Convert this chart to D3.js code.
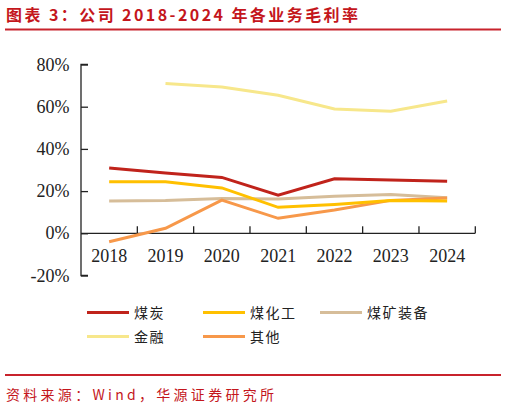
<!DOCTYPE html>
<html>
<head>
<meta charset="utf-8">
<script src="https://cdn.jsdelivr.net/npm/d3@7"></script>
<style>
body { margin:0; background:#fff; }
svg { display:block; }
</style>
</head>
<body>
<svg id="chart" width="506" height="408"></svg>
<script>

var years=["2018","2019","2020","2021","2022","2023","2024"];
var seriesNames=["煤炭","煤化工","煤矿装备","金融","其他"];
var coal=[31.0,28.6,26.5,18.1,25.8,25.3,24.7];
var coalChem=[24.4,24.4,21.5,12.3,13.7,15.6,15.3];
var mineEquip=[15.3,15.5,16.5,16.2,17.6,18.4,16.8];
var finance=[null,71.0,69.3,65.4,58.9,57.8,62.7];
var other=[-4.0,2.4,15.7,7.1,11.0,15.6,16.7];
var yTicks=[-20,0,20,40,60,80];

var lineColors=["#c0231b","#ffc000","#d6bd99","#f7e78b","#f7984a"];

window.onload = function() {
	var svg=d3.select("#chart");
	var all_series=[coal,coalChem,mineEquip,finance,other];

	// title + rule
	svg.append("text")
		.attr("x",6).attr("y",21)
		.attr("font-family","'Noto Sans CJK SC'")
		.attr("font-weight","bold")
		.attr("font-size",16)
		.attr("fill","#c4161c")
		.attr("textLength",352)
		.text("图表 3：公司 2018-2024 年各业务毛利率");
	svg.append("line")
		.attr("x1",5).attr("x2",501).attr("y1",29.5).attr("y2",29.5)
		.attr("stroke","#c8232c").attr("stroke-width",2);

	var x=d3.scaleBand().domain(years).range([81,475.3]);
	var y=d3.scaleLinear().domain([-20,80]).range([275.5,64.5]);

	// y axis, ticks pointing inward
	var yAxis=d3.axisRight(y).tickValues(yTicks).tickSize(7).tickFormat("");
	var gy=svg.append("g").attr("transform","translate("+x.range()[0]+",0)").call(yAxis);
	gy.select(".domain").attr("d","M7,"+y(-20)+"H0V"+y(80)+"H7");
	gy.selectAll("path,line").attr("stroke","#222").attr("stroke-width",1.3);

	svg.selectAll("text.ylab")
		.data(yTicks)
		.enter()
		.append("text")
		.attr("class","ylab")
		.attr("x",69.5)
		.attr("y",function(d) { return y(d)+6; })
		.attr("text-anchor","end")
		.attr("font-family","'Liberation Serif'")
		.attr("font-size",18)
		.attr("fill","#222")
		.text(function(d) { return d+"%"; });

	// x axis at 0%, ticks at the band edges going up
	var edges=years.map(function(d) { return x(d); }).concat([x.range()[1]]);
	var gx=svg.append("g");
	gx.append("line")
		.attr("x1",x.range()[0]).attr("x2",x.range()[1])
		.attr("y1",y(0)).attr("y2",y(0))
		.attr("stroke","#222").attr("stroke-width",1.3);
	gx.selectAll("line.tk")
		.data(edges.slice(1))
		.enter()
		.append("line")
		.attr("class","tk")
		.attr("x1",function(d) { return d; })
		.attr("x2",function(d) { return d; })
		.attr("y1",y(0))
		.attr("y2",y(0)-7)
		.attr("stroke","#222").attr("stroke-width",1.3);
	gx.selectAll("text")
		.data(years)
		.enter()
		.append("text")
		.attr("x",function(d) { return x(d)+x.bandwidth()/2; })
		.attr("y",y(0)+29)
		.attr("text-anchor","middle")
		.attr("font-family","'Liberation Serif'")
		.attr("font-size",18)
		.attr("fill","#222")
		.text(function(d) { return d; });

	// lines
	var line=d3.line()
		.defined(function(d) { return d!==null; })
		.x(function(d,i) { return x(years[i])+x.bandwidth()/2; })
		.y(function(d) { return y(d); });
	var draw_order=[3,2,4,1,0];
	for(var k=0;k<draw_order.length;k++)
		{
		var s=draw_order[k];
		svg.append("path")
			.datum(all_series[s])
			.attr("d",line)
			.attr("fill","none")
			.attr("stroke",lineColors[s])
			.attr("stroke-width",3);
		}

	// legend
	var legX=[87,203,320];
	var legY=[312.5,336.5];
	var leg=svg.selectAll("g.leg")
		.data(seriesNames)
		.enter()
		.append("g")
		.attr("class","leg")
		.attr("transform",function(d,i) { return "translate("+legX[i%3]+","+legY[Math.floor(i/3)]+")"; });
	leg.append("line")
		.attr("x1",0).attr("x2",42).attr("y1",0).attr("y2",0)
		.attr("stroke",function(d,i) { return lineColors[i]; })
		.attr("stroke-width",3);
	leg.append("text")
		.attr("x",47).attr("y",5)
		.attr("font-family","'Noto Sans CJK SC'")
		.attr("font-size",14)
		.attr("letter-spacing",1.5)
		.attr("fill","#222")
		.text(function(d) { return d; });

	// source
	svg.append("line")
		.attr("x1",5).attr("x2",501).attr("y1",375).attr("y2",375)
		.attr("stroke","#c8232c").attr("stroke-width",2);
	svg.append("text")
		.attr("x",6).attr("y",400)
		.attr("font-family","'Noto Sans CJK SC'")
		.attr("font-size",14)
		.attr("fill","#c4161c")
		.attr("textLength",268)
		.text("资料来源：Wind，华源证券研究所");
};
</script>
</body>
</html>
